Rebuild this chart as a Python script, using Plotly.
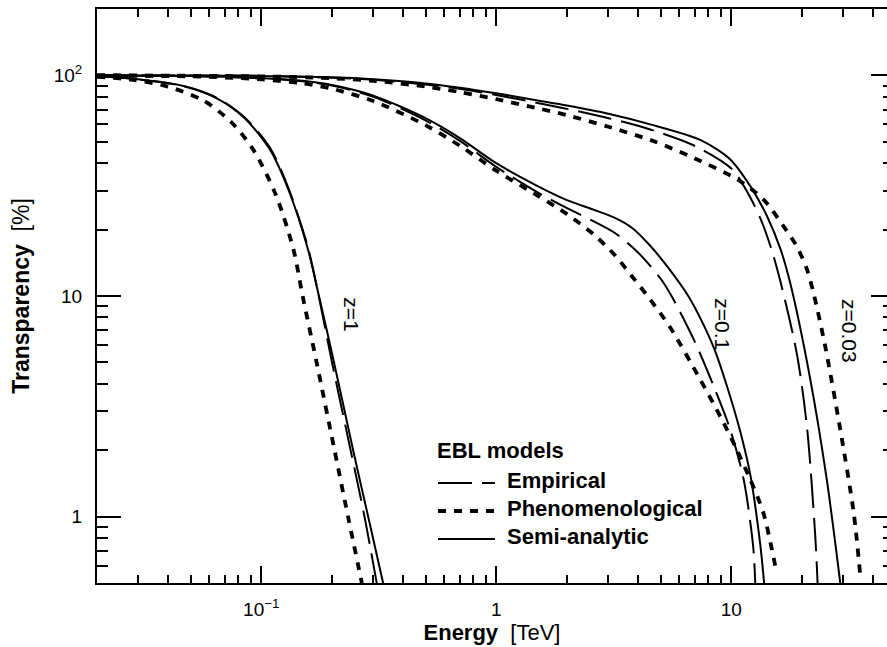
import math
import plotly.graph_objects as go

# ---------------- data ----------------
# z = 1
E_z1_semi = [0.02, 0.0285, 0.0466, 0.065, 0.085, 0.109, 0.131, 0.158, 0.176, 0.204, 0.246, 0.285, 0.33]
T_z1_semi = [99, 96.5, 89.5, 78.5, 64, 46, 30, 16.3, 10, 5, 2, 1, 0.5]
E_z1_emp = [0.02, 0.0285, 0.0466, 0.065, 0.085, 0.109, 0.131, 0.158, 0.175, 0.200, 0.240, 0.275, 0.31]
T_z1_emp = [99, 96.5, 89.5, 79, 64.5, 47, 30.5, 16.6, 10.2, 5, 2, 1, 0.5]
E_z1_phe = [0.02, 0.0285, 0.04, 0.0567, 0.075, 0.0925, 0.115, 0.137, 0.150, 0.172, 0.205, 0.234, 0.268]
T_z1_phe = [98.5, 95.5, 89, 77, 61, 46, 29, 16.3, 10, 5, 2, 1, 0.5]

# z = 0.1
E_z01_semi = [0.02, 0.05, 0.1, 0.15, 0.2, 0.3, 0.5, 0.7, 1.0, 1.5, 2.0, 2.6, 3.2, 3.8, 4.52, 5.4, 6.56, 7.4, 8.5, 9.59, 10.9, 12.05, 13.3, 13.8]
T_z01_semi = [100, 99.3, 97, 94.5, 90.5, 81, 64, 52, 40, 31.5, 27.2, 24.6, 22.6, 20.3, 16.9, 13.4, 10.0, 7.9, 5.7, 3.9, 2.45, 1.55, 0.74, 0.5]
E_z01_emp = [0.02, 0.05, 0.1, 0.15, 0.2, 0.3, 0.5, 0.7, 1.0, 1.5, 2.0, 2.6, 3.2, 4.0, 5.0, 5.6, 7.0, 8.5, 9.9, 11.3, 12.4, 12.65]
T_z01_emp = [100, 99.3, 97, 94, 90, 80, 62.5, 50.5, 38.5, 29.5, 25, 21.8, 19.3, 15.8, 12.0, 9.9, 6.2, 3.8, 2.48, 1.47, 0.73, 0.5]
E_z01_phe = [0.02, 0.05, 0.1, 0.15, 0.2, 0.3, 0.5, 0.7, 1.0, 1.5, 2.0, 2.6, 3.2, 3.8, 4.52, 5.5, 7.38, 9.13, 10.4, 12.05, 13.7, 15.6]
T_z01_phe = [100, 99, 96, 92, 87, 76.5, 59.5, 48, 37, 28.5, 23.5, 19, 15.3, 12.2, 9.64, 7.2, 4.18, 2.75, 2.08, 1.47, 1.04, 0.555]

# z = 0.03
E_z003_semi = [0.02, 0.1, 0.2, 0.3, 0.5, 0.7, 1.0, 1.5, 2.0, 3.0, 4.52, 7.38, 9.9, 12.05, 14.2, 16.2, 17.8, 21.7, 25.5, 29.1]
T_z003_semi = [100, 99.5, 98, 96, 92, 88, 83, 77, 73, 67, 60, 51, 41.6, 31.5, 23, 16.3, 11.5, 4.18, 1.47, 0.5]
E_z003_emp = [0.02, 0.1, 0.2, 0.3, 0.5, 0.7, 1.0, 1.5, 2.0, 3.0, 4.52, 7.03, 10.1, 11.7, 13.3, 14.8, 16.1, 19.0, 21.0, 22.8, 23.3]
T_z003_emp = [100, 99.5, 97.5, 95.5, 91, 87, 81.5, 75, 70.5, 64, 56.9, 47.8, 37.5, 29.6, 22.5, 16.4, 11.9, 5.5, 2.55, 0.8, 0.5]
E_z003_phe = [0.02, 0.1, 0.2, 0.3, 0.5, 0.7, 1.0, 1.5, 2.0, 3.0, 4.66, 7.0, 10.6, 13.7, 16.7, 19.0, 21.0, 22.4, 25.1, 29.1, 33.2, 35.4]
T_z003_phe = [100, 99, 97, 94.5, 89, 84, 78, 71, 66, 58.5, 50.4, 42, 33.8, 27.4, 20.7, 16.8, 13.2, 10.3, 5.92, 2.48, 1.04, 0.54]

# curve labels (energy, transparency)
z_labels = ["z=1", "z=0.1", "z=0.03"]
z_label_E = [0.2415, 9.16, 31.9]
z_label_T = [8.24, 7.42, 6.97]

model_names = ["Empirical", "Phenomenological", "Semi-analytic"]
legend_title = "EBL models"

x_tickvals = [0.1, 1, 10]
x_ticktext = ["10<sup>\u22121</sup>", "1", "10"]
y_tickvals = [1, 10, 100]
y_ticktext = ["1", "10", "10<sup>2</sup>"]

# ---------------- styles ----------------
FONT = "Liberation Sans, Arial, Helvetica, sans-serif"
styles = {
    "Empirical": dict(color="black", width=2, dash="34px,10px"),
    "Phenomenological": dict(color="black", width=3.8, dash="8px,8px"),
    "Semi-analytic": dict(color="black", width=2, dash="solid"),
}

series = [
    ("Empirical", E_z1_emp, T_z1_emp),
    ("Phenomenological", E_z1_phe, T_z1_phe),
    ("Semi-analytic", E_z1_semi, T_z1_semi),
    ("Empirical", E_z01_emp, T_z01_emp),
    ("Phenomenological", E_z01_phe, T_z01_phe),
    ("Semi-analytic", E_z01_semi, T_z01_semi),
    ("Empirical", E_z003_emp, T_z003_emp),
    ("Phenomenological", E_z003_phe, T_z003_phe),
    ("Semi-analytic", E_z003_semi, T_z003_semi),
]

fig = go.Figure()
for name, E, T in series:
    fig.add_trace(go.Scatter(
        x=E, y=T, mode="lines", name=name, showlegend=False,
        line=dict(shape="spline", smoothing=0.8, **styles[name]),
        hoverinfo="x+y+name",
    ))
# helper trace for the right-hand tick axis
fig.add_trace(go.Scatter(x=[], y=[], yaxis="y2", showlegend=False, hoverinfo="skip"))


def minor_vals(lo_dec, hi_dec):
    vals = []
    for d in range(lo_dec, hi_dec + 1):
        for m in range(2, 10):
            vals.append(m * 10 ** d)
    return vals

x_minor = [v for v in minor_vals(-2, 1) if 0.02 < v < 50]
y_minor = [v for v in minor_vals(-1, 2) if 0.5 < v < 200]

X_RANGE = [math.log10(0.02), math.log10(46)]
Y_RANGE = [math.log10(0.5), math.log10(200)]

tickfont = dict(family=FONT, size=19, color="black")

fig.update_layout(
    width=887, height=647,
    margin=dict(l=97, r=0, t=9, b=64),
    paper_bgcolor="white", plot_bgcolor="white",
    font=dict(family=FONT, color="black"),
    showlegend=False,
    xaxis=dict(
        type="log", range=X_RANGE,
        tickmode="array", tickvals=x_tickvals, ticktext=x_ticktext,
        ticks="inside", ticklen=17, tickwidth=1.5, tickcolor="black",
        showline=True, linewidth=2, linecolor="black", mirror="ticks",
        showgrid=False, zeroline=False, tickfont=tickfont,
        ticklabelstandoff=8,
        minor=dict(tickmode="array", tickvals=x_minor, ticks="inside", ticklen=8,
                   tickwidth=1.5, tickcolor="black", showgrid=False),
        title=dict(text="<b>Energy</b>\u00a0\u00a0[TeV]", font=dict(family=FONT, size=22), standoff=5),
    ),
    yaxis=dict(
        type="log", range=Y_RANGE,
        tickmode="array", tickvals=y_tickvals, ticktext=y_ticktext,
        ticks="inside", ticklen=24, tickwidth=1.5, tickcolor="black",
        showline=True, linewidth=2, linecolor="black", mirror=False,
        showgrid=False, zeroline=False, tickfont=tickfont,
        ticklabelstandoff=9,
        minor=dict(tickmode="array", tickvals=y_minor, ticks="inside", ticklen=11,
                   tickwidth=1.5, tickcolor="black", showgrid=False),
        title=dict(text="<b>Transparency</b>\u00a0\u00a0[%]", font=dict(family=FONT, size=23), standoff=18),
    ),
    yaxis2=dict(
        type="log", range=Y_RANGE, overlaying="y", side="right", anchor="x",
        tickmode="array", tickvals=y_tickvals, showticklabels=False,
        ticks="inside", ticklen=16, tickwidth=1.5, tickcolor="black",
        showline=False, showgrid=False, zeroline=False,
        minor=dict(tickmode="array", tickvals=y_minor, ticks="inside", ticklen=4,
                   tickwidth=1.5, tickcolor="black", showgrid=False),
    ),
)

# curve labels
for txt, e, t in zip(z_labels, z_label_E, z_label_T):
    fig.add_annotation(x=math.log10(e), y=math.log10(t), xref="x", yref="y",
                       text=txt, showarrow=False, textangle=90,
                       font=dict(family=FONT, size=21, color="black"))

# legend (drawn by hand to match the original layout)
PX0, PW, PY0, PH = 97, 790, 583, 574
def px(xp):
    return (xp - PX0) / PW
def py(yp):
    return (PY0 - yp) / PH

fig.add_annotation(x=px(435), y=py(450), xref="paper", yref="paper", xanchor="left", yanchor="middle",
                   text="<b>" + legend_title + "</b>", showarrow=False,
                   font=dict(family=FONT, size=22, color="black"))
row_text_y = [480, 508, 536]
row_line_y = [483, 511, 539]
for name, ty, ly in zip(model_names, row_text_y, row_line_y):
    fig.add_annotation(x=px(505), y=py(ty), xref="paper", yref="paper", xanchor="left", yanchor="middle",
                       text="<b>" + name + "</b>", showarrow=False,
                       font=dict(family=FONT, size=22, color="black"))
    st = styles[name]
    fig.add_shape(type="line", xref="paper", yref="paper",
                  x0=px(438), x1=px(495), y0=py(ly), y1=py(ly),
                  line=dict(color="black", width=st["width"], dash=st["dash"]))

fig.write_html("out.html")
